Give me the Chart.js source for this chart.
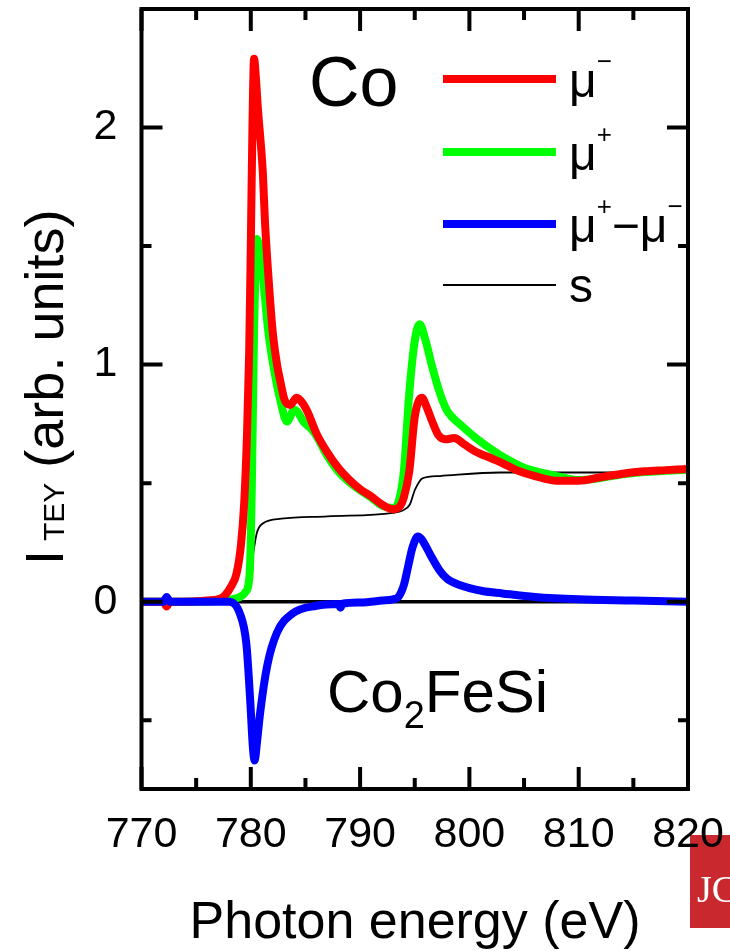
<!DOCTYPE html>
<html><head><meta charset="utf-8">
<style>html,body{margin:0;padding:0;background:#fff;} #wrap{width:730px;height:951px;position:relative;}</style>
<script src="https://cdn.jsdelivr.net/npm/chart.js@4.4.1/dist/chart.umd.min.js"></script>
</head><body><div id="wrap"><canvas id="c" width="730" height="951"></canvas></div>
<script>
// ---- data (photon energy in eV, intensity in arb. units) ----
const redE   = [770, 771, 772, 772.3, 772.6, 773.5, 775, 776, 777, 777.6, 778.2, 778.7, 779.1, 779.4, 779.65, 779.85, 780.0, 780.15, 780.3, 780.45, 780.65, 781.1, 781.3, 781.6, 782.0, 782.4, 782.7, 783.1, 783.6, 784.2, 784.7, 785.2, 786, 787, 788, 789, 790, 791, 792, 793, 793.6, 794.0, 794.5, 795.0, 795.65, 796.1, 796.6, 797.2, 797.8, 798.6, 799.5, 800.5, 802, 803, 804.3, 806, 808, 810, 812, 814, 816, 818, 820];
const redI   = [0, 0, 0, -0.02, 0, 0, 0.002, 0.005, 0.01, 0.025, 0.065, 0.12, 0.24, 0.42, 0.7, 1.05, 1.5, 2.0, 2.29, 2.22, 2.08, 1.81, 1.6, 1.38, 1.14, 1.0, 0.93, 0.85, 0.83, 0.86, 0.84, 0.80, 0.71, 0.63, 0.565, 0.515, 0.475, 0.445, 0.41, 0.39, 0.40, 0.44, 0.55, 0.78, 0.86, 0.82, 0.76, 0.70, 0.685, 0.69, 0.665, 0.635, 0.605, 0.585, 0.555, 0.53, 0.51, 0.51, 0.525, 0.54, 0.55, 0.555, 0.56];

const greenE = [770, 772, 772.3, 772.6, 775, 777, 778, 779, 779.5, 779.9, 780.1, 780.3, 780.45, 780.55, 780.75, 781.0, 781.3, 781.6, 782.2, 782.7, 783.3, 784.0, 784.3, 784.8, 785.5, 786, 787, 788, 789, 790, 791, 792, 793, 793.5, 794.0, 794.5, 795.0, 795.45, 796.0, 796.6, 797.3, 797.9, 798.5, 799.1, 800.6, 802.1, 803.5, 805, 806.5, 808, 810, 812, 814, 816, 818, 820];
const greenI = [0, 0, -0.015, 0, 0, 0.003, 0.008, 0.02, 0.04, 0.12, 0.5, 1.15, 1.45, 1.53, 1.5, 1.43, 1.28, 1.14, 0.96, 0.85, 0.76, 0.81, 0.80, 0.76, 0.73, 0.70, 0.615, 0.55, 0.505, 0.47, 0.44, 0.405, 0.395, 0.42, 0.55, 0.88, 1.1, 1.17, 1.1, 0.99, 0.88, 0.81, 0.775, 0.75, 0.69, 0.64, 0.60, 0.565, 0.545, 0.53, 0.513, 0.522, 0.537, 0.547, 0.552, 0.557];

const blueE  = [770, 772, 772.3, 772.6, 775, 778, 779.0, 779.6, 779.95, 780.2, 780.35, 780.55, 780.85, 781.5, 782.4, 783.8, 786, 788, 788.2, 788.4, 790, 792, 793.0, 793.5, 794.0, 794.4, 794.8, 795.3, 795.6, 796.0, 796.4, 797.3, 798, 799.1, 801.2, 803, 806, 810, 815, 820];
const blueI  = [0, 0, 0.02, 0, 0, 0, -0.05, -0.18, -0.42, -0.62, -0.67, -0.6, -0.47, -0.27, -0.13, -0.05, -0.017, -0.01, -0.025, -0.008, -0.003, 0.005, 0.01, 0.02, 0.07, 0.15, 0.23, 0.275, 0.265, 0.235, 0.2, 0.13, 0.095, 0.07, 0.045, 0.035, 0.02, 0.01, 0.005, 0.0];

const sE     = [770, 778.3, 779.2, 779.65, 780.1, 780.55, 781.1, 782.8, 787, 793, 793.9, 794.55, 795.0, 795.4, 795.7, 797.3, 802.8, 810, 820];
const sI     = [0, 0.002, 0.03, 0.06, 0.17, 0.29, 0.33, 0.35, 0.36, 0.375, 0.385, 0.41, 0.47, 0.505, 0.52, 0.53, 0.545, 0.545, 0.55];

const zeroE  = [770, 820];
const zeroI  = [0, 0];

// ---- ticks ----
const xMajorTicks = [770, 780, 790, 800, 810, 820];
const xMinorTicks = [775, 785, 795, 805, 815];
const yMajorTicks = [0, 1, 2];
const yMinorTicks = [-0.5, 0.5, 1.5];

const FONT = '"Liberation Sans", Arial, Helvetica, sans-serif';
function pts(E, I) { return E.map((e, i) => ({ x: e, y: I[i] })); }

function drawRuns(ctx, x, y, runs) {
  let cx = x;
  for (const r of runs) {
    ctx.font = r.size + 'px ' + FONT;
    cx += (r.dx || 0);
    ctx.fillText(r.t, cx, y + (r.dy || 0));
    cx += ctx.measureText(r.t).width;
  }
  return cx;
}
function runsWidth(ctx, runs) {
  let w = 0;
  for (const r of runs) { ctx.font = r.size + 'px ' + FONT; w += ctx.measureText(r.t).width + (r.dx || 0); }
  return w;
}

const SUP = 26, SUPDY = -27;
const legendRows = [
  { color: '#ff0000', width: 8,   y: 79,  base: 97,  runs: [{ t: 'μ', size: 48 }, { t: '−', size: SUP, dy: SUPDY }] },
  { color: '#00ff00', width: 8,   y: 152, base: 170, runs: [{ t: 'μ', size: 48 }, { t: '+', size: SUP, dy: SUPDY }] },
  { color: '#0000ff', width: 8,   y: 224, base: 242, runs: [{ t: 'μ', size: 48 }, { t: '+', size: SUP, dy: SUPDY }, { t: '−', size: 48 }, { t: 'μ', size: 48 }, { t: '−', size: SUP, dy: SUPDY }] },
  { color: '#000000', width: 1.8, y: 285, base: 302, runs: [{ t: 's', size: 48 }] }
];

const framePlugin = {
  id: 'frame',
  beforeDraw(chart) {
    const c = chart.ctx;
    c.save();
    c.fillStyle = '#c9292e';
    c.fillRect(690, 835, 40, 93);
    c.fillStyle = '#ffffff';
    c.font = '38px "Liberation Serif", "DejaVu Serif", serif';
    c.textBaseline = 'alphabetic';
    c.fillText('JC', 697, 902);
    c.restore();
  },
  afterDatasetsDraw(chart) {
    const c = chart.ctx, a = chart.chartArea, xs = chart.scales.x, ys = chart.scales.y;
    c.save();
    c.strokeStyle = '#000'; c.lineWidth = 4; c.lineCap = 'butt';
    const MAJ = 22, MIN = 11;
    function vt(v, len) {
      const p = xs.getPixelForValue(v);
      c.beginPath(); c.moveTo(p, a.bottom); c.lineTo(p, a.bottom - len);
      c.moveTo(p, a.top); c.lineTo(p, a.top + len); c.stroke();
    }
    function ht(v, len) {
      const p = ys.getPixelForValue(v);
      c.beginPath(); c.moveTo(a.left, p); c.lineTo(a.left + len, p);
      c.moveTo(a.right, p); c.lineTo(a.right - len, p); c.stroke();
    }
    xMajorTicks.forEach(v => vt(v, MAJ));
    xMinorTicks.forEach(v => vt(v, MIN));
    yMajorTicks.forEach(v => ht(v, MAJ - 1));
    yMinorTicks.forEach(v => ht(v, MIN - 1));
    c.lineJoin = 'miter';
    c.strokeRect(a.left, a.top, a.right - a.left, a.bottom - a.top);
    c.restore();
  },
  afterDraw(chart) {
    const c = chart.ctx;
    c.save();
    c.fillStyle = '#000';
    c.textBaseline = 'alphabetic';
    c.textAlign = 'left';
    // Legend
    for (const r of legendRows) {
      c.strokeStyle = r.color; c.lineWidth = r.width; c.lineCap = 'butt';
      c.beginPath(); c.moveTo(443, r.y); c.lineTo(556, r.y); c.stroke();
      c.fillStyle = '#000';
      drawRuns(c, 569, r.base, r.runs);
    }
    // Annotations
    drawRuns(c, 309, 106, [{ t: 'Co', size: 70 }]);
    drawRuns(c, 327, 712, [{ t: 'Co', size: 60 }, { t: '2', size: 38, dy: 16 }, { t: 'FeSi', size: 60 }]);
    // x title
    const xt = [{ t: 'Photon energy (eV)', size: 52 }];
    drawRuns(c, 415 - runsWidth(c, xt) / 2, 938, xt);
    // y title (rotated)
    c.translate(63, 565);
    c.rotate(-Math.PI / 2);
    drawRuns(c, 0, 0, [{ t: 'I', size: 54 }, { t: 'TEY', size: 30, dx: 9, dy: 1 }, { t: ' (arb. units)', size: 54 }]);
    c.restore();
  }
};

function noPad(s) { s.paddingTop = 0; s.paddingBottom = 0; s.paddingLeft = 0; s.paddingRight = 0; }

const common = { pointRadius: 0, pointHoverRadius: 0, fill: false, cubicInterpolationMode: 'monotone', borderCapStyle: 'round', borderJoinStyle: 'round' };

new Chart(document.getElementById('c').getContext('2d'), {
  type: 'line',
  data: {
    datasets: [
      Object.assign({ label: 'μ+−μ−', data: pts(blueE, blueI),  borderColor: '#0000ff', borderWidth: 8,   order: 0 }, common),
      Object.assign({ label: 'μ−',    data: pts(redE, redI),    borderColor: '#ff0000', borderWidth: 8,   order: 1 }, common),
      Object.assign({ label: 'μ+',    data: pts(greenE, greenI),borderColor: '#00ff00', borderWidth: 8,   order: 2 }, common),
      Object.assign({ label: 's',     data: pts(sE, sI),        borderColor: '#000000', borderWidth: 1.8, order: 3 }, common),
      Object.assign({ label: 'zero',  data: pts(zeroE, zeroI),  borderColor: '#000000', borderWidth: 3.5, order: 4 }, common)
    ]
  },
  options: {
    responsive: false,
    animation: false,
    events: [],
    layout: { padding: { left: 0, top: 9, right: 42, bottom: 0 } },
    plugins: { legend: { display: false }, tooltip: { enabled: false } },
    scales: {
      x: {
        type: 'linear', min: 770, max: 820,
        afterFit(s) { s.height = 162; noPad(s); },
        afterBuildTicks(s) { s.ticks = xMajorTicks.map(v => ({ value: v })); },
        grid: { display: false, drawTicks: false },
        border: { display: false },
        ticks: { font: { family: FONT, size: 43 }, color: '#000', padding: 20, maxRotation: 0, autoSkip: false, callback: v => String(v) }
      },
      y: {
        type: 'linear', min: -0.79, max: 2.5,
        afterFit(s) { s.width = 141.5; noPad(s); },
        afterBuildTicks(s) { s.ticks = yMajorTicks.map(v => ({ value: v })); },
        grid: { display: false, drawTicks: false },
        border: { display: false },
        ticks: { font: { family: FONT, size: 43 }, color: '#000', padding: 24, autoSkip: false, callback: v => String(v) }
      }
    }
  },
  plugins: [framePlugin]
});
</script>
</body></html>
